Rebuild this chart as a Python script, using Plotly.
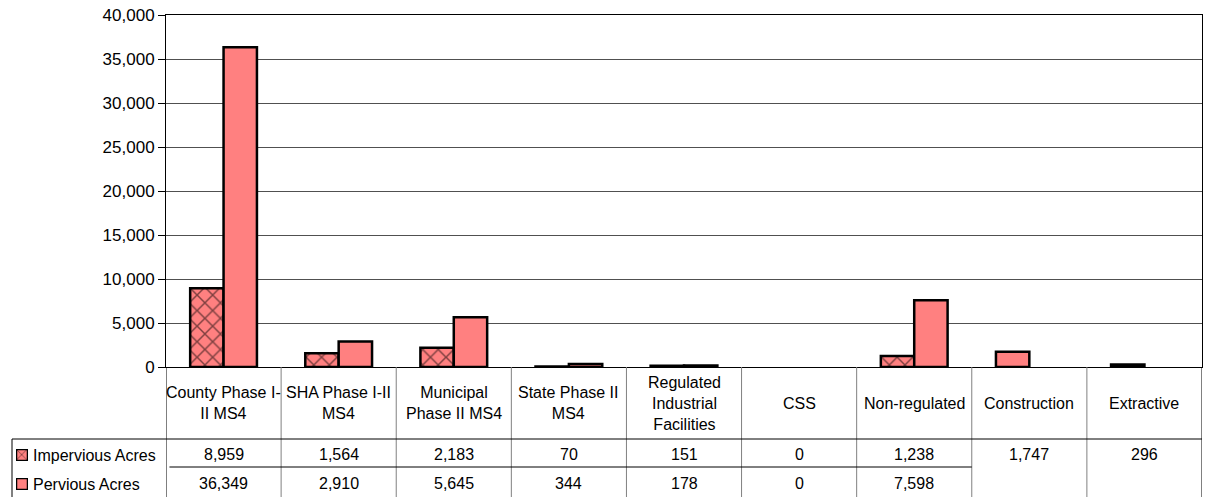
import plotly.graph_objects as go

# data
categories = ['County Phase I-II MS4', 'SHA Phase I-II MS4', 'Municipal Phase II MS4',
              'State Phase II MS4', 'Regulated Industrial Facilities', 'CSS',
              'Non-regulated', 'Construction', 'Extractive']
cat_labels = ['County Phase I-<br>II MS4', 'SHA Phase I-II<br>MS4', 'Municipal<br>Phase II MS4',
              'State Phase II<br>MS4', 'Regulated<br>Industrial<br>Facilities', 'CSS',
              'Non-regulated', 'Construction', 'Extractive']
impervious = [8959, 1564, 2183, 70, 151, 0, 1238, 1747, 296]
pervious = [36349, 2910, 5645, 344, 178, 0, 7598, None, None]
series_names = ['Impervious Acres', 'Pervious Acres']
# Construction / Extractive are drawn solid in the source
imp_pattern = ['x'] * 7 + ['', '']

W, H = 1209, 497
L, R, T, B = 166, 1202, 15, 367
PINK = '#FF8080'
FONT = 'Liberation Sans, Arial, sans-serif'
TXT = dict(size=16, color='black', family=FONT)

def fx(pix):
    return pix / W

def fy(pix):
    return 1 - pix / H

def outline(vals):
    # zero-height bars show no outline
    return [2.5 if v else 0 for v in vals]

hatch = dict(shape=imp_pattern, fgcolor='black', bgcolor=PINK, size=11, solidity=0.25, fillmode='overlay')

fig = go.Figure()
fig.add_trace(go.Bar(
    x=categories, y=impervious, name=series_names[0],
    marker=dict(color=PINK, line=dict(color='black', width=outline(impervious)), pattern=hatch)
))
fig.add_trace(go.Bar(
    x=categories, y=pervious, name=series_names[1],
    marker=dict(color=PINK, line=dict(color='black', width=outline(pervious)))
))

# legend keys (small bars in their own little axes)
fig.add_trace(go.Bar(x=[0], y=[1], width=[1], xaxis='x2', yaxis='y2', showlegend=False, hoverinfo='skip',
                     marker=dict(color=PINK, line=dict(color='black', width=2.5),
                                 pattern=dict(shape='x', fgcolor='black', bgcolor=PINK, size=8, solidity=0.2))))
fig.add_trace(go.Bar(x=[0], y=[1], width=[1], xaxis='x3', yaxis='y3', showlegend=False, hoverinfo='skip',
                     marker=dict(color=PINK, line=dict(color='black', width=2.5))))

shapes = []
annots = []
line_c = '#000000'
grey_c = '#808080'

# vertical table lines
for i in range(len(categories) + 1):
    shapes.append(dict(type='line', xref='x', yref='paper', x0=i - 0.5, x1=i - 0.5,
                       y0=fy(B), y1=0, line=dict(color=grey_c if 0 < i < len(categories) else line_c, width=1)))
# horizontal lines
shapes.append(dict(type='line', xref='paper', yref='paper', x0=fx(12), x1=fx(R),
                   y0=fy(439), y1=fy(439), line=dict(color=line_c, width=1)))
shapes.append(dict(type='line', xref='x', yref='paper', x0=-0.47, x1=6.5,
                   y0=fy(467), y1=fy(467), line=dict(color=line_c, width=1)))
shapes.append(dict(type='line', xref='paper', yref='paper', x0=fx(12), x1=fx(12),
                   y0=fy(439), y1=0, line=dict(color=line_c, width=1)))

# category labels and values
for i, c in enumerate(categories):
    annots.append(dict(x=c, y=fy(403), xref='x', yref='paper', text=cat_labels[i],
                       showarrow=False, font=TXT, align='center', yanchor='middle'))
    annots.append(dict(x=c, y=fy(454), xref='x', yref='paper', text=f'{impervious[i]:,}',
                       showarrow=False, font=TXT, yanchor='middle'))
    if pervious[i] is not None:
        annots.append(dict(x=c, y=fy(483), xref='x', yref='paper', text=f'{pervious[i]:,}',
                           showarrow=False, font=TXT, yanchor='middle'))

# legend texts
for name, yy in zip(series_names, [455, 484]):
    annots.append(dict(x=fx(31), y=fy(yy), xref='paper', yref='paper', text=name, showarrow=False,
                       font=TXT, xanchor='left', yanchor='middle'))

key_axis = dict(visible=False, fixedrange=True)
fig.update_layout(
    width=W, height=H,
    margin=dict(l=0, r=0, t=0, b=0, pad=0),
    paper_bgcolor='white', plot_bgcolor='rgba(0,0,0,0)',
    font=dict(family=FONT, color='black'),
    barmode='group', bargap=0.42, bargroupgap=0,
    showlegend=False,
    xaxis=dict(domain=[fx(L), fx(R)], showticklabels=False, showline=True, linecolor='black', linewidth=1,
               mirror=True, ticks='', showgrid=False, range=[-0.5, 8.5], fixedrange=True, automargin=False),
    yaxis=dict(domain=[fy(B), fy(T)], range=[0, 40000], dtick=5000, tickformat=',', showgrid=True,
               gridcolor='#505050', gridwidth=1, showline=True, linecolor='black',
               linewidth=1, mirror=True, ticks='outside', ticklen=7, tickcolor='black',
               tickfont=dict(size=17, family=FONT, color='black'), zeroline=False, automargin=False),
    xaxis2=dict(domain=[fx(16), fx(28)], range=[-0.5, 0.5], anchor='y2', **key_axis),
    yaxis2=dict(domain=[fy(461), fy(449)], range=[0, 1], anchor='x2', **key_axis),
    xaxis3=dict(domain=[fx(16), fx(28)], range=[-0.5, 0.5], anchor='y3', **key_axis),
    yaxis3=dict(domain=[fy(490), fy(478)], range=[0, 1], anchor='x3', **key_axis),
    shapes=shapes, annotations=annots,
)

# drop the default page margin so the figure sits at the window origin
fig.write_html('out.html', config={'displayModeBar': False},
               post_script="document.body.style.margin='0';document.body.style.overflow='hidden';")
